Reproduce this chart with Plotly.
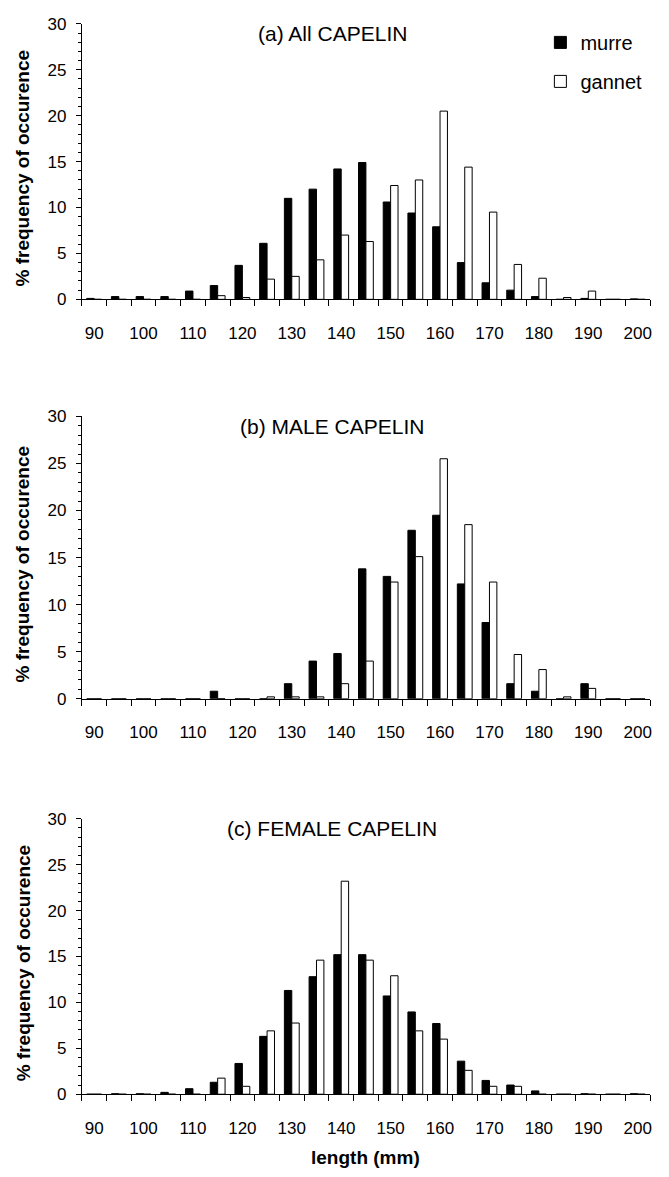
import plotly.graph_objects as go
from plotly.subplots import make_subplots

lengths = [90, 95, 100, 105, 110, 115, 120, 125, 130, 135, 140, 145, 150, 155,
           160, 165, 170, 175, 180, 185, 190, 195, 200]

all_murre = [0.1, 0.3, 0.3, 0.3, 0.9, 1.5, 3.7, 6.1, 11.0, 12.0, 14.2, 14.9, 10.6, 9.4,
             7.9, 4.0, 1.8, 1.0, 0.3, 0.0, 0.1, 0.0, 0.05]
all_gannet = [0.0, 0.0, 0.0, 0.0, 0.0, 0.4, 0.2, 2.2, 2.5, 4.3, 7.0, 6.3, 12.4, 13.0,
              20.5, 14.4, 9.5, 3.8, 2.3, 0.2, 0.9, 0.0, 0.0]

male_murre = [0.0, 0.0, 0.0, 0.0, 0.0, 0.8, 0.0, 0.0, 1.6, 4.0, 4.8, 13.8, 13.0, 17.9,
              19.5, 12.2, 8.1, 1.6, 0.8, 0.0, 1.6, 0.0, 0.0]
male_gannet = [0.0, 0.0, 0.0, 0.0, 0.0, 0.0, 0.0, 0.2, 0.2, 0.2, 1.6, 4.0, 12.4, 15.1,
               25.5, 18.5, 12.4, 4.7, 3.1, 0.2, 1.1, 0.0, 0.0]

female_murre = [0.0, 0.05, 0.05, 0.2, 0.6, 1.3, 3.35, 6.3, 11.3, 12.8, 15.2, 15.2, 10.7, 8.96,
                7.7, 3.6, 1.5, 1.0, 0.36, 0.0, 0.05, 0.0, 0.05]
female_gannet = [0.0, 0.0, 0.0, 0.0, 0.0, 1.75, 0.86, 6.9, 7.75, 14.6, 23.2, 14.6, 12.9, 6.9,
                 6.0, 2.6, 0.86, 0.86, 0.0, 0.0, 0.0, 0.0, 0.0]

panel_titles = ["(a) All CAPELIN", "(b) MALE CAPELIN", "(c) FEMALE CAPELIN"]
y_title = "% frequency of occurence"
x_title = "length (mm)"
series_names = ["murre", "gannet"]
xtick_vals = list(range(90, 201, 10))

panels = [(all_murre, all_gannet), (male_murre, male_gannet), (female_murre, female_gannet)]

# the page body has an 8px margin, so the figure is drawn 8px smaller
W, H = 661, 1169
plot_left, plot_right = 74, 644
# (pixel of 30, pixel of 0) for each panel, figure coordinates
panel_px = [(7, 287), (406, 693), (815, 1095)]

FONT = "Liberation Sans, Arial, sans-serif"

fig = make_subplots(rows=3, cols=1)

for i, (m, g) in enumerate(panels):
    r = i + 1
    fig.add_trace(go.Bar(x=lengths, y=m, name=series_names[0],
                         marker=dict(color="black", line=dict(color="black", width=1)),
                         showlegend=(i == 0), legendgroup="m"), row=r, col=1)
    fig.add_trace(go.Bar(x=lengths, y=g, name=series_names[1],
                         marker=dict(color="white", line=dict(color="black", width=1)),
                         showlegend=(i == 0), legendgroup="g"), row=r, col=1)

for i in range(3):
    top, bot = panel_px[i]
    xa = "xaxis" if i == 0 else f"xaxis{i+1}"
    ya = "yaxis" if i == 0 else f"yaxis{i+1}"
    fig.layout[ya].update(
        domain=[1 - bot / H, 1 - top / H], range=[0, 30], tickvals=list(range(0, 31, 5)),
        ticks="outside", ticklen=5, tickwidth=1, tickcolor="black",
        minor=dict(dtick=1, tick0=0, ticks="outside", ticklen=3, tickwidth=1, tickcolor="black"),
        showline=True, linecolor="black", linewidth=1, showgrid=False, zeroline=False,
        tickfont=dict(family=FONT, size=17, color="black"), ticklabelstandoff=6,
    )
    fig.layout[xa].update(
        domain=[plot_left / W, plot_right / W], range=[87.5, 202.5],
        tickvals=xtick_vals, ticktext=[str(v) for v in xtick_vals],
        ticks="outside", ticklen=18, tickcolor="rgba(0,0,0,0)",
        minor=dict(tick0=87.5, dtick=5, ticks="outside", ticklen=6, tickwidth=1,
                   tickcolor="black", showgrid=False),
        showline=True, linecolor="black", linewidth=1, showgrid=False, zeroline=False,
        tickfont=dict(family=FONT, size=17, color="black"),
    )
    fig.add_annotation(text=panel_titles[i], xref="paper", yref="paper",
                       x=325 / W, y=1 - (top + 10) / H,
                       xanchor="center", yanchor="middle", showarrow=False,
                       font=dict(family=FONT, size=21, color="black"))
    fig.add_annotation(text="<b>" + y_title + "</b>", xref="paper", yref="paper",
                       x=15 / W, y=1 - ((top + bot) / 2 + 6) / H,
                       xanchor="center", yanchor="middle", textangle=-90, showarrow=False,
                       font=dict(family=FONT, size=19, color="black"))

fig.add_annotation(text="<b>" + x_title + "</b>", xref="paper", yref="paper",
                   x=359 / W, y=1 - 1159 / H,
                   xanchor="center", yanchor="middle", showarrow=False,
                   font=dict(family=FONT, size=19, color="black"))

fig.update_layout(
    width=W, height=H, margin=dict(l=0, r=0, t=0, b=0),
    paper_bgcolor="white", plot_bgcolor="white",
    barmode="group", bargap=0.4, bargroupgap=0,
    legend=dict(x=534 / W, y=1 - 6 / H,
                xref="paper", yref="paper", xanchor="left", yanchor="top",
                font=dict(family=FONT, size=20, color="black"),
                tracegroupgap=10, traceorder="grouped", bgcolor="rgba(0,0,0,0)",
                itemwidth=30),
    font=dict(family=FONT, color="black"),
)

fig.write_html("out.html")
